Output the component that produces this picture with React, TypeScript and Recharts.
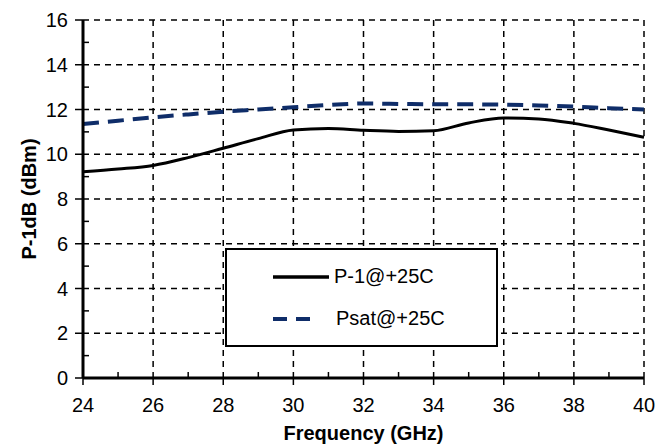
import { CartesianGrid, Label, Legend, Line, LineChart, Text, XAxis, YAxis } from 'recharts';

const freqGHz = [24, 25, 26, 27, 28, 29, 30, 31, 32, 33, 34, 35, 36, 37, 38, 39, 40];
const p1dB = [9.22, 9.34, 9.5, 9.85, 10.27, 10.7, 11.08, 11.15, 11.07, 11.02, 11.05, 11.4, 11.62, 11.58, 11.38, 11.08, 10.76];
const psat = [11.35, 11.5, 11.65, 11.78, 11.9, 12.0, 12.1, 12.2, 12.27, 12.25, 12.23, 12.23, 12.22, 12.18, 12.13, 12.06, 12.0];

const xTicks = [24, 26, 28, 30, 32, 34, 36, 38, 40];
const xMinorTicks = [25, 27, 29, 31, 33, 35, 37, 39];
const yTicks = [0, 2, 4, 6, 8, 10, 12, 14, 16];
const yMinorTicks = [1, 3, 5, 7, 9, 11, 13, 15];

const NAVY = '#0f2d69';
const FONT = '"Liberation Sans", Arial, sans-serif';

const data = freqGHz.map((f, i) => ({ f, p1: p1dB[i], psat: psat[i] }));
const allX = [...xTicks, ...xMinorTicks].sort((a, b) => a - b);
const allY = [...yTicks, ...yMinorTicks].sort((a, b) => a - b);

const X_TICK = 7;
const X_GAP = 13;
const Y_TICK = 8;
const Y_GAP = 7;
const MINOR = 6;

// tick lines are drawn here so odd values get a short inward mark and no label
const XTick = (props: any) => {
  const { x, y, payload } = props;
  const axisY = y - X_TICK - X_GAP;
  if (!xTicks.includes(payload.value)) {
    return <line x1={x} x2={x} y1={axisY} y2={axisY - MINOR} stroke="#000" strokeWidth={1.5} />;
  }
  return (
    <g>
      <line x1={x} x2={x} y1={axisY} y2={axisY + X_TICK} stroke="#000" strokeWidth={1.5} />
      <Text x={x} y={y} textAnchor="middle" verticalAnchor="start" fill="#000" fontSize={20} fontFamily={FONT}>
        {payload.value}
      </Text>
    </g>
  );
};

const YTick = (props: any) => {
  const { x, y, payload } = props;
  const axisX = x + Y_TICK + Y_GAP;
  if (!yTicks.includes(payload.value)) {
    return <line x1={axisX} x2={axisX + MINOR} y1={y} y2={y} stroke="#000" strokeWidth={1.5} />;
  }
  return (
    <g>
      <line x1={axisX - Y_TICK} x2={axisX} y1={y} y2={y} stroke="#000" strokeWidth={1.5} />
      <Text x={x} y={y} textAnchor="end" verticalAnchor="middle" fill="#000" fontSize={20} fontFamily={FONT}>
        {payload.value}
      </Text>
    </g>
  );
};

const LegendBox = () => (
  <div
    style={{
      position: 'relative',
      width: 269,
      height: 95,
      border: '2px solid #000',
      background: '#fff',
      fontFamily: FONT,
      fontSize: 20,
      lineHeight: '23px',
      color: '#000',
      boxSizing: 'content-box',
    }}
  >
    <div style={{ position: 'absolute', left: 46, top: 15, display: 'flex', alignItems: 'center' }}>
      <svg width={56} height={6}>
        <line x1={0} y1={3} x2={56} y2={3} stroke="#000" strokeWidth={3.5} />
      </svg>
      <span style={{ marginLeft: 5 }}>P-1@+25C</span>
    </div>
    <div style={{ position: 'absolute', left: 46, top: 57, display: 'flex', alignItems: 'center' }}>
      <svg width={56} height={6}>
        <line x1={0} y1={3} x2={44} y2={3} stroke={NAVY} strokeWidth={4} strokeDasharray="14 9" />
      </svg>
      <span style={{ marginLeft: 7 }}>Psat@+25C</span>
    </div>
  </div>
);

export default function App() {
  return (
    <div style={{ position: 'absolute', left: 0, top: 0 }}>
      <LineChart
        width={671}
        height={445}
        data={data}
        margin={{ top: 20, right: 27, left: 0, bottom: 0 }}
        style={{ fontFamily: FONT }}
      >
        <CartesianGrid
          stroke="#000"
          strokeWidth={1.5}
          strokeDasharray="6 5"
          verticalValues={xTicks}
          horizontalValues={yTicks}
        />
        <XAxis
          dataKey="f"
          type="number"
          domain={[24, 40]}
          ticks={allX}
          interval={0}
          height={67}
          tickSize={X_TICK}
          tickMargin={X_GAP}
          tick={XTick}
          tickLine={false}
          axisLine={{ stroke: '#000', strokeWidth: 3 }}
        >
          <Label
            value="Frequency (GHz)"
            position="insideBottom"
            offset={5}
            style={{ fill: '#000', fontSize: 20, fontWeight: 'bold', fontFamily: FONT }}
          />
        </XAxis>
        <XAxis
          xAxisId="top"
          orientation="top"
          type="number"
          domain={[24, 40]}
          height={0}
          mirror
          tick={false}
          tickLine={false}
          axisLine={{ stroke: '#000', strokeWidth: 3 }}
        />
        <YAxis
          type="number"
          domain={[0, 16]}
          ticks={allY}
          interval={0}
          width={83}
          tickSize={Y_TICK}
          tickMargin={Y_GAP}
          tick={YTick}
          tickLine={false}
          axisLine={{ stroke: '#000', strokeWidth: 3 }}
        >
          <Label
            value="P-1dB (dBm)"
            angle={-90}
            position="insideLeft"
            offset={29}
            style={{ fill: '#000', fontSize: 20, fontWeight: 'bold', fontFamily: FONT, textAnchor: 'middle' }}
          />
        </YAxis>
        <YAxis
          yAxisId="right"
          orientation="right"
          type="number"
          domain={[0, 16]}
          width={0}
          mirror
          tick={false}
          tickLine={false}
          axisLine={{ stroke: '#000', strokeWidth: 3 }}
        />
        <Line
          dataKey="p1"
          type="monotone"
          stroke="#000"
          strokeWidth={3}
          dot={false}
          isAnimationActive={false}
        />
        <Line
          dataKey="psat"
          type="monotone"
          stroke={NAVY}
          strokeWidth={4}
          strokeDasharray="16 9"
          dot={false}
          isAnimationActive={false}
        />
        <Legend
          layout="horizontal"
          verticalAlign="middle"
          align="center"
          content={<LegendBox />}
          wrapperStyle={{ left: 225, top: 248, width: 273, height: 99 }}
        />
      </LineChart>
    </div>
  );
}
